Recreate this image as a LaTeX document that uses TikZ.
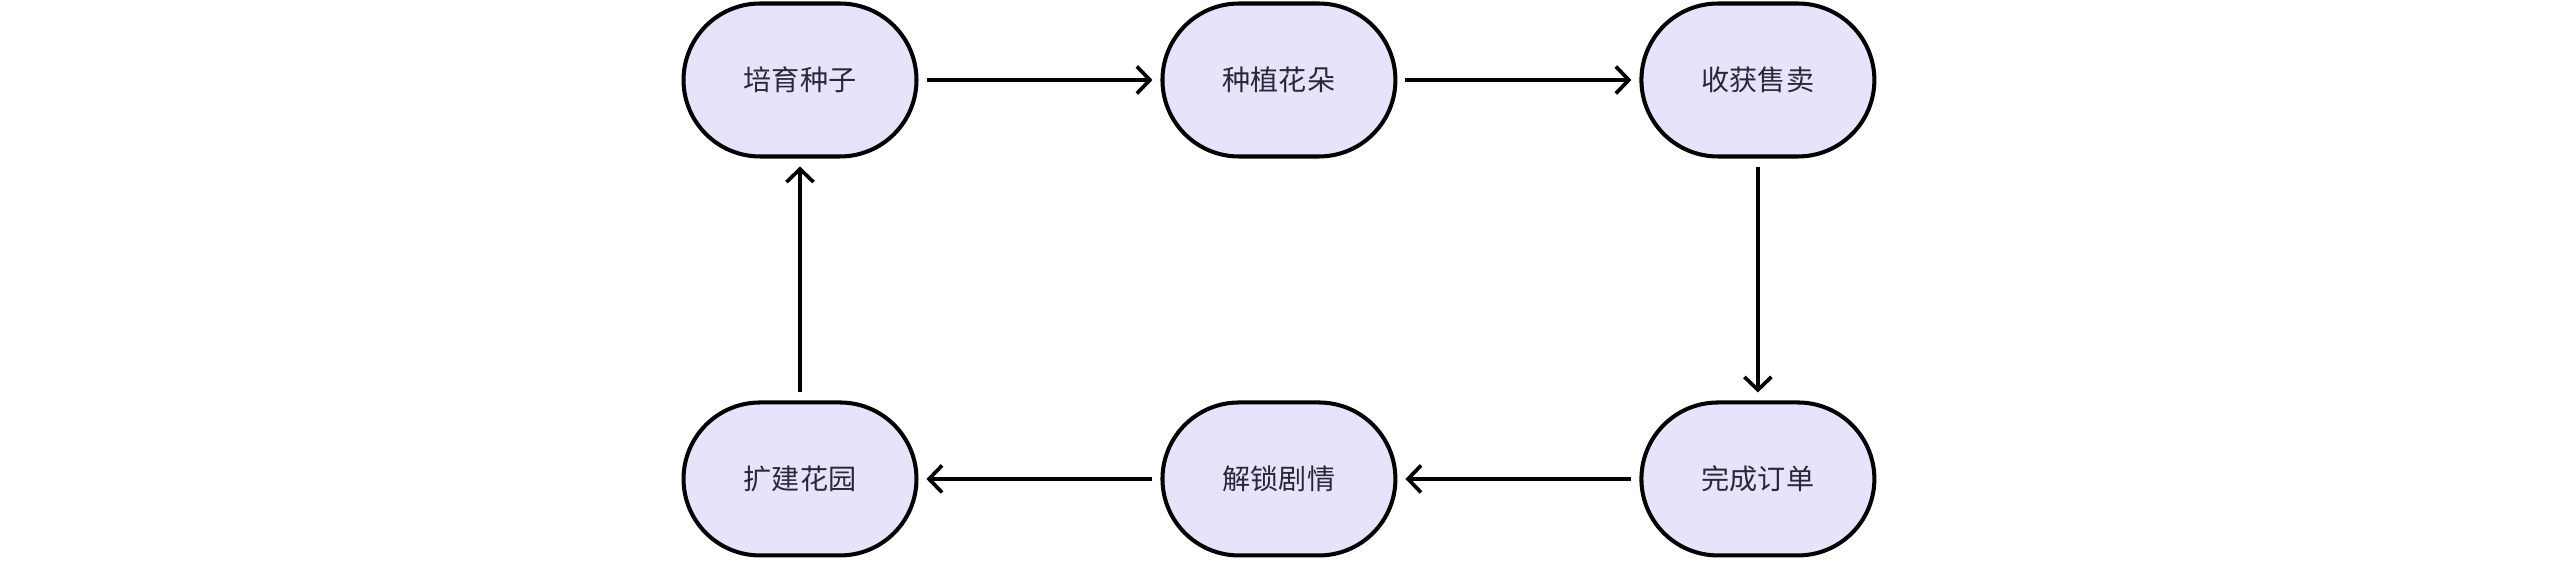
\documentclass[tikz,border=0pt]{standalone}
\usepackage{fontspec}
\setmainfont{Noto Sans CJK SC}
\usepackage{tikz}
\usetikzlibrary{arrows.meta,   % pointes de fleches
           positioning}        % placement relatif
\definecolor{lavande}{RGB}{232,226,250}
\definecolor{encre}{RGB}{42,40,56}

\begin{document}
\begin{tikzpicture}[x=0.02cm,y=-0.02cm,node distance=4.84cm,
  etape/.style={draw=black,line width=2.3pt,fill=lavande,text=encre,
    rounded corners=1.53cm,minimum width=4.66cm,minimum height=3.06cm,
    font=\fontsize{16}{19}\selectfont},
  fl/.style={line width=2.1pt,-{Straight Barb[length=0.26cm,width=0.54cm,line width=2.1pt]},
    shorten <=0.16cm,shorten >=0.16cm}]
\useasboundingbox (0,0) rectangle (2560,584);
% premiere ligne
\node[etape] (graine) at (800,80) {培育种子};
\node[etape,right=of graine] (plante) {种植花朵};
\node[etape,right=of plante] (recolte) {收获售卖};
% deuxieme ligne
\node[etape,below=of recolte] (commande) {完成订单};
\node[etape,left=of commande] (histoire) {解锁剧情};
\node[etape,left=of histoire] (jardin) {扩建花园};
\draw[fl] (graine) -- (plante);
\draw[fl] (plante) -- (recolte);
\draw[fl] (recolte) -- (commande);
\draw[fl] (commande) -- (histoire);
\draw[fl] (histoire) -- (jardin);
\draw[fl] (jardin) -- (graine);
\end{tikzpicture}
\end{document}
